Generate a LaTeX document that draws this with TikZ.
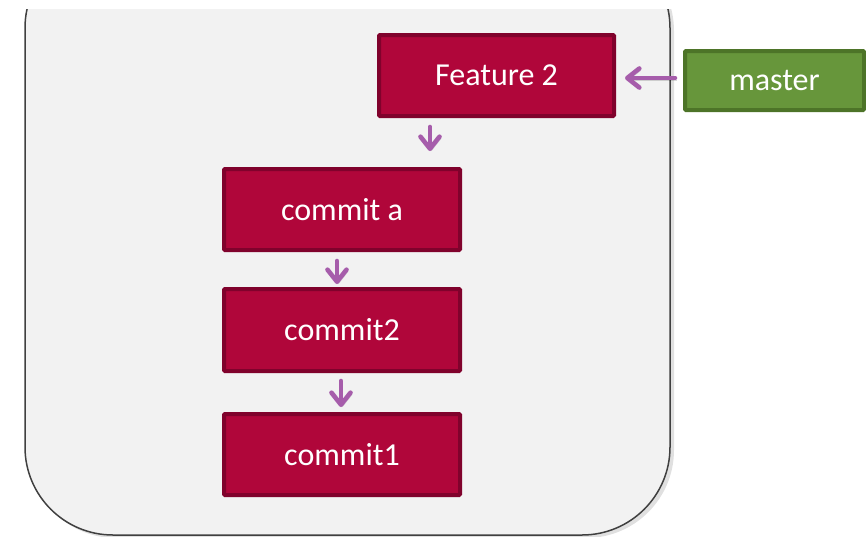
\documentclass[tikz,border=0pt]{standalone}
\usepackage{fontspec}
\setmainfont{Carlito}
\usetikzlibrary{arrows.meta,shadows}
\definecolor{bgray}{HTML}{F2F2F2}
\definecolor{frame}{HTML}{404040}
\definecolor{crim}{HTML}{B0063A}
\definecolor{crimd}{HTML}{80022C}
\definecolor{grn}{HTML}{67963B}
\definecolor{grnd}{HTML}{4D7428}
\definecolor{purp}{HTML}{A65DAB}
\begin{document}
\begin{tikzpicture}[x=1pt,y=-1pt,
  box/.style={draw=crimd,fill=crim,line width=4pt,rounded corners=1pt,
    text=white,font=\fontsize{32}{36}\selectfont,inner sep=0pt},
  gbox/.style={draw=grnd,fill=grn,line width=4pt,rounded corners=1pt,
    text=white,font=\fontsize{32}{36}\selectfont,inner sep=0pt},
  arr/.style={draw=purp,line width=4.6pt,line cap=round,line join=round,
    -{Straight Barb[length=12pt,width=19pt,round]},
    preaction={draw=black,opacity=0.15,transform canvas={xshift=1.5pt,yshift=-2pt}}}
]
\useasboundingbox (0,0) rectangle (866,536);
\begin{scope}
  \clip (0,9) rectangle (866,540);
  \fill[black,opacity=0.12,rounded corners=88pt] (28,-57) rectangle (674,538);
  \draw[frame,fill=bgray,line width=1.5pt,rounded corners=88pt] (25,-60) rectangle (670,535);
\end{scope}
\node[box,minimum width=235pt,minimum height=81pt] (f2) at (496.5,75.5) {Feature 2};
\node[gbox,minimum width=179pt,minimum height=59pt] (m) at (774.5,80.5) {master};
\node[box,minimum width=236pt,minimum height=81pt] (ca) at (342,209.5) {commit a};
\node[box,minimum width=236pt,minimum height=82pt] (c2) at (342,330) {commit2};
\node[box,minimum width=236pt,minimum height=81pt] (c1) at (342,454.5) {commit1};
\draw[arr,shorten <=8pt,shorten >=9pt] (m.west |- 0,78) -- (f2.east |- 0,78);
\draw[arr,shorten <=9pt,shorten >=16pt] (f2.south -| 430,0) -- (ca.north -| 430,0);
\draw[arr,shorten <=9pt,shorten >=3pt] (ca.south -| 337,0) -- (c2.north -| 337,0);
\draw[arr,shorten <=8pt,shorten >=5pt] (c2.south -| 341,0) -- (c1.north -| 341,0);
\end{tikzpicture}
\end{document}
